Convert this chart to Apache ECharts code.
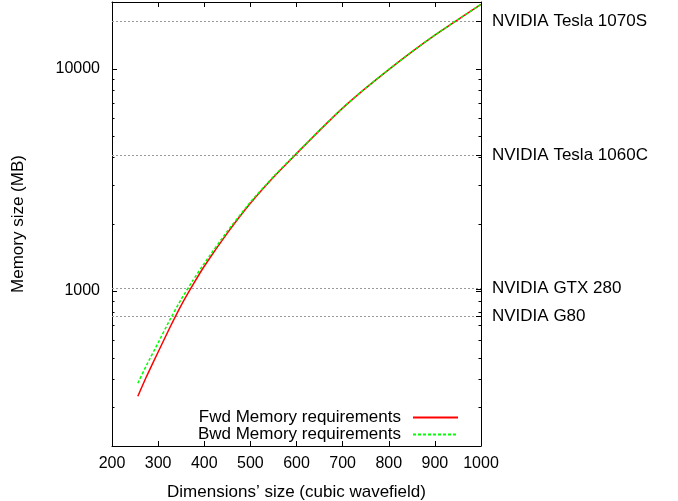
<!DOCTYPE html>
<html><head><meta charset="utf-8">
<script src="https://cdn.jsdelivr.net/npm/echarts@6/dist/echarts.min.js"></script>
<style>html,body{margin:0;padding:0;background:#fff}#c{width:678px;height:501px}</style>
</head><body><div id="c"></div>
<script>
const dims   = [256, 275, 300, 325, 350, 375, 400, 450, 500, 550, 600, 650, 700, 750, 800, 850, 900, 950, 1000];
const fwdMem = [335, 412, 530, 680, 860, 1060, 1290, 1820, 2480, 3250, 4150, 5280, 6650, 8180, 9920, 11930, 14180, 16650, 19500];
const bwdMem = [384, 463, 583, 738, 916, 1110, 1330, 1855, 2510, 3270, 4165, 5296, 6665, 8195, 9935, 11945, 14195, 16665, 19520];
const xTickLabels = [200, 300, 400, 500, 600, 700, 800, 900, 1000];
const yTickLabels = [1000, 10000];
const yMinorTicks = [300, 400, 500, 600, 700, 800, 900, 2000, 3000, 4000, 5000, 6000, 7000, 8000, 9000];
const gpuNames = ['NVIDIA Tesla 1070S', 'NVIDIA Tesla 1060C', 'NVIDIA GTX 280', 'NVIDIA G80'];
const gpuMem   = [16384, 4096, 1024, 768];

const FONT = "'Liberation Sans', Arial, sans-serif";
const xMin = xTickLabels[0], xMax = xTickLabels[xTickLabels.length - 1];

function tickItem(side, len) {
  return function (params, api) {
    const v = api.value(1);
    const p = api.coord([side === 'left' ? xMin : xMax, v]);
    const y = Math.round(p[1]) + 0.5;
    const dx = side === 'left' ? len : -len;
    return {
      type: 'line',
      shape: { x1: p[0], y1: y, x2: p[0] + dx, y2: y },
      style: { stroke: '#000', lineWidth: 1 }
    };
  };
}

const chart = echarts.init(document.getElementById('c'));
chart.setOption({
  animation: false,
  backgroundColor: '#fff',
  grid: { left: 112, right: 197, top: 2, bottom: 55, outerBoundsMode: 'none', containLabel: false },
  legend: {
    orient: 'vertical', right: 219, top: 409, padding: 0,
    align: 'right', itemWidth: 45, itemHeight: 14, itemGap: 0,
    selectedMode: false,
    itemStyle: { opacity: 0 },
    textStyle: { fontSize: 17, color: '#000', fontFamily: FONT, lineHeight: 17, padding: [0, 7, 0, 0] },
    data: ['Fwd Memory requirements', 'Bwd Memory requirements']
  },
  xAxis: [{
    type: 'value', position: 'bottom', min: xMin, max: xMax, interval: 100,
    axisLine: { show: true, lineStyle: { color: '#000', width: 1 } },
    axisTick: { show: true, inside: true, length: 5, lineStyle: { color: '#000' } },
    axisLabel: { color: '#000', fontSize: 16, margin: 10, fontFamily: FONT, formatter: function (v) { return String(v); } },
    splitLine: { show: false },
    name: 'Dimensions\u2019 size (cubic wavefield)', nameLocation: 'middle', nameGap: 38,
    nameTextStyle: { color: '#000', fontSize: 17, fontFamily: FONT }
  }, {
    type: 'value', position: 'top', min: xMin, max: xMax, interval: 100,
    axisLine: { show: true, lineStyle: { color: '#000', width: 1 } },
    axisTick: { show: true, inside: true, length: 5, lineStyle: { color: '#000' } },
    axisLabel: { show: false }, splitLine: { show: false }
  }],
  yAxis: [{
    type: 'log', logBase: 10, min: 200, max: 20000, position: 'left',
    axisLine: { show: true, lineStyle: { color: '#000', width: 1 } },
    axisTick: { show: true, inside: true, length: 5, lineStyle: { color: '#000' } },
    axisLabel: {
      color: '#000', fontSize: 16, margin: 12, fontFamily: FONT,
      formatter: function (v) { const r = Math.round(v); return yTickLabels.indexOf(r) >= 0 ? String(r) : ''; }
    },
    splitLine: { show: false },
    name: 'Memory size (MB)', nameLocation: 'middle', nameGap: 85, nameRotate: 90,
    nameTextStyle: { color: '#000', fontSize: 17, fontFamily: FONT }
  }, {
    type: 'log', logBase: 10, min: 200, max: 20000, position: 'right',
    axisLine: { show: true, lineStyle: { color: '#000', width: 1 } },
    axisTick: { show: true, inside: true, length: 5, lineStyle: { color: '#000' } },
    axisLabel: { show: false }, splitLine: { show: false }
  }],
  series: [{
    name: 'Fwd Memory requirements', type: 'line', xAxisIndex: 0, yAxisIndex: 0,
    data: dims.map((d, i) => [d, fwdMem[i]]),
    symbol: 'none', smooth: 0.15, color: '#ff0000', z: 3,
    lineStyle: { color: '#ff0000', width: 1.5 },
    markLine: {
      silent: true, symbol: 'none', z: 1, animation: false,
      lineStyle: { color: '#999', type: [2, 2], width: 1 },
      label: { show: true, position: 'end', formatter: '{b}', distance: 11, color: '#000', fontSize: 17, fontFamily: FONT },
      emphasis: { disabled: true },
      data: gpuNames.map((n, i) => ({ name: n, yAxis: gpuMem[i] }))
    }
  }, {
    name: 'Bwd Memory requirements', type: 'line', xAxisIndex: 0, yAxisIndex: 0,
    data: dims.map((d, i) => [d, bwdMem[i]]),
    symbol: 'none', smooth: 0.15, color: '#00ff00', z: 4,
    lineStyle: { color: '#00ff00', width: 1.5, type: [3, 2] }
  }, {
    name: 'minorLeft', type: 'custom', xAxisIndex: 0, yAxisIndex: 0, silent: true, clip: false,
    data: yMinorTicks.map(v => [xMin, v]), encode: { x: 0, y: 1 },
    renderItem: tickItem('left', 2.5)
  }, {
    name: 'minorRight', type: 'custom', xAxisIndex: 0, yAxisIndex: 0, silent: true, clip: false,
    data: yMinorTicks.map(v => [xMax, v]), encode: { x: 0, y: 1 },
    renderItem: tickItem('right', 2.5)
  }, {
    name: 'gpuTicks', type: 'custom', xAxisIndex: 0, yAxisIndex: 0, silent: true, clip: false,
    data: gpuMem.map(v => [xMax, v]), encode: { x: 0, y: 1 },
    renderItem: tickItem('right', 5)
  }]
});
</script></body></html>
